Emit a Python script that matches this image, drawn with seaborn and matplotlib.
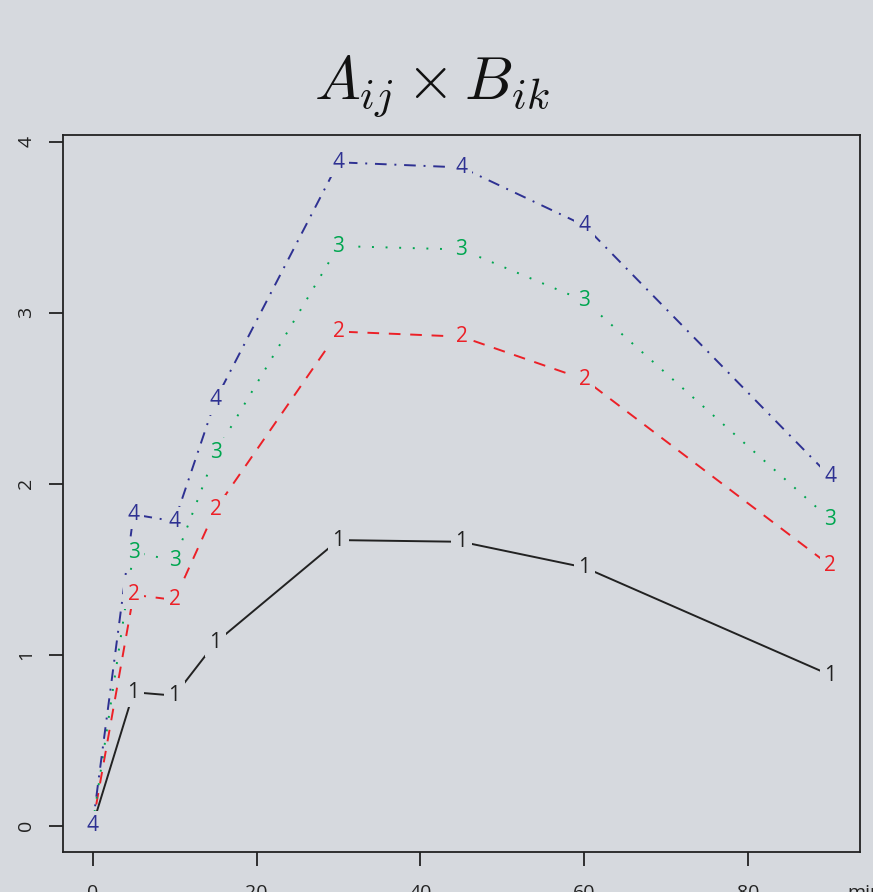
import numpy as np
import pandas as pd
import matplotlib
matplotlib.use("Agg")
import matplotlib.pyplot as plt
import seaborn as sns

# time points (min) and the four curves
minutes = [0, 5, 10, 15, 30, 45, 60, 90]
curve1 = [0.0, 0.78, 0.76, 1.07, 1.67, 1.66, 1.51, 0.88]
curve2 = [0.0, 1.35, 1.32, 1.85, 2.89, 2.86, 2.61, 1.52]
curve3 = [0.0, 1.60, 1.55, 2.18, 3.39, 3.37, 3.07, 1.79]
curve4 = [0.0, 1.82, 1.78, 2.49, 3.88, 3.85, 3.51, 2.04]
labels = ["1", "2", "3", "4"]
xticks = [0, 20, 40, 60, 80]
yticks = [0, 1, 2, 3, 4]

bg = "#d6d9de"
colors = ["#222222", "#ec2027", "#00a650", "#2e3192"]
styles = ["-", (0, (6, 5)), (0, (1, 6)), (0, (6, 4, 1, 4))]

sns.set_style("white", {"axes.facecolor": bg, "figure.facecolor": bg})
plt.rcParams["font.family"] = ["Open Sans", "DejaVu Sans"]
plt.rcParams["mathtext.fontset"] = "cm"

fig = plt.figure(figsize=(8.73, 8.92), dpi=100)
ax = fig.add_axes([0.0722, 0.0448, 0.9128, 0.8039])

curves = [curve1, curve2, curve3, curve4]
for i, ys in enumerate(curves):
    sns.lineplot(x=minutes, y=ys, ax=ax, color=colors[i], linestyle=styles[i],
                 linewidth=1.4, legend=False)
for i, ys in enumerate(curves):
    for xv, yv in zip(minutes, ys):
        ax.text(xv, yv, labels[i], color=colors[i], fontsize=15, ha="center", va="center",
                bbox=dict(boxstyle="square,pad=0.2", fc=bg, ec="none"), zorder=3 + i)

ax.set_xlim(-3.6, 93.6)
ax.set_ylim(-0.155, 4.04)
ax.set_xticks(xticks)
ax.set_yticks(yticks)
ax.set_yticklabels([str(t) for t in yticks], rotation=90, va="center")
ax.tick_params(axis="both", direction="out", length=10, width=1.3, labelsize=14, pad=10,
               color="#222222", labelcolor="#222222", left=True, bottom=True)
ax.tick_params(axis="x", pad=13)
for s in ax.spines.values():
    s.set_color("#222222")
    s.set_linewidth(1.3)
ax.set_xlabel("")
ax.set_ylabel("")
ax.text(0.984, -0.045, "min", transform=ax.transAxes, fontsize=14, color="#222222",
        ha="left", va="top")

fig.text(0.495, 0.903, r"$A_{ij}\times B_{ik}$", fontsize=44, ha="center", va="center", color="#111111")

fig.savefig("out.png", dpi=100, facecolor=bg)
